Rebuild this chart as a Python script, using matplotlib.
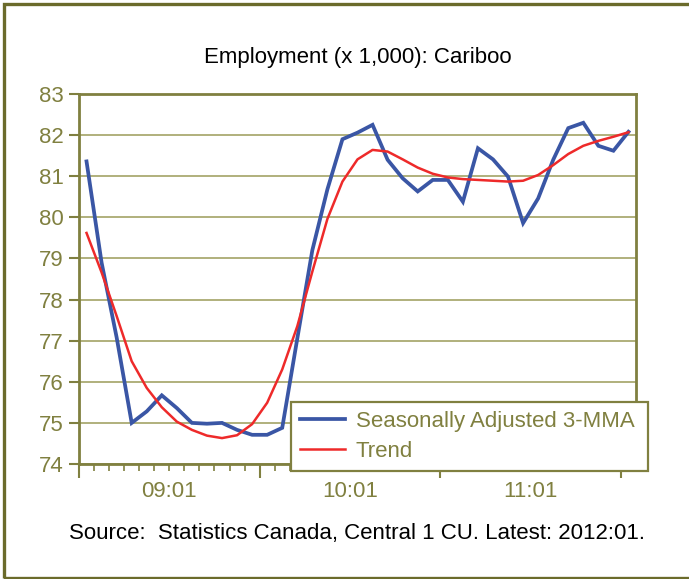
import matplotlib
matplotlib.use("Agg")
import matplotlib.pyplot as plt
from matplotlib.patches import Rectangle
from matplotlib.ticker import FixedLocator, NullFormatter

plt.rcParams["font.family"] = ["Liberation Sans", "DejaVu Sans"]

# Monthly employment, Cariboo region (thousands), 2009:01 - 2012:01
months = ["2009-01", "2009-02", "2009-03", "2009-04", "2009-05", "2009-06",
          "2009-07", "2009-08", "2009-09", "2009-10", "2009-11", "2009-12",
          "2010-01", "2010-02", "2010-03", "2010-04", "2010-05", "2010-06",
          "2010-07", "2010-08", "2010-09", "2010-10", "2010-11", "2010-12",
          "2011-01", "2011-02", "2011-03", "2011-04", "2011-05", "2011-06",
          "2011-07", "2011-08", "2011-09", "2011-10", "2011-11", "2011-12",
          "2012-01"]

seasonally_adjusted = [81.36, 78.90, 77.08, 75.00, 75.28, 75.67, 75.36, 75.00,
                       74.98, 75.00, 74.83, 74.71, 74.71, 74.88, 77.05, 79.20,
                       80.68, 81.90, 82.06, 82.25, 81.40, 80.95, 80.63, 80.91,
                       80.91, 80.38, 81.68, 81.41, 80.99, 79.86, 80.46, 81.40,
                       82.17, 82.30, 81.74, 81.62, 82.08]

trend = [79.62, 78.66, 77.60, 76.50, 75.85, 75.38, 75.03, 74.83, 74.69, 74.63,
         74.70, 74.97, 75.49, 76.30, 77.35, 78.68, 79.96, 80.87, 81.41, 81.64,
         81.60, 81.41, 81.21, 81.06, 80.97, 80.93, 80.91, 80.89, 80.87, 80.89,
         81.03, 81.27, 81.54, 81.74, 81.86, 81.96, 82.07]

year_labels = ["09:01", "10:01", "11:01"]
y_ticks = [74, 75, 76, 77, 78, 79, 80, 81, 82, 83]

title = "Employment (x 1,000): Cariboo"
source = "Source:  Statistics Canada, Central 1 CU. Latest: 2012:01."

OLIVE = "#808040"
OLIVE_DARK = "#6b6b2b"
GRID = "#a3a366"
BLUE = "#3a56a5"
RED = "#ee2a2a"
FS = 16

fig = plt.figure(figsize=(6.89, 5.79), dpi=100)
fig.patch.set_facecolor("white")

# outer frame
fig.add_artist(Rectangle((3.5 / 689, 1.5 / 579), 700 / 689, 574 / 579,
                         transform=fig.transFigure, fill=False,
                         edgecolor=OLIVE_DARK, linewidth=2.4, clip_on=False))

ax = fig.add_axes([79 / 689, 1 - 464 / 579, 557 / 689, 370 / 579])
x = list(range(len(months)))

ax.plot(x, seasonally_adjusted, color=BLUE, linewidth=2.7,
        label="Seasonally Adjusted 3-MMA", solid_joinstyle="miter", zorder=3)
ax.plot(x, trend, color=RED, linewidth=1.8, label="Trend", zorder=4)

ax.set_xlim(-0.5, len(months) - 0.5)
ax.set_ylim(74, 83)

# y axis
ax.set_yticks(y_ticks)
ax.set_yticklabels([str(v) for v in y_ticks])
ax.tick_params(axis="y", direction="out", length=7, width=1.5, color=OLIVE,
               labelcolor=OLIVE, labelsize=FS, pad=4)
ax.yaxis.grid(True, color=GRID, linewidth=1.2)
ax.set_axisbelow(True)

# x axis: a short tick at every month boundary, longer ones each January
year_starts = [i - 0.5 for i, m in enumerate(months) if m.endswith("-01")]
ax.xaxis.set_major_locator(FixedLocator(year_starts))
ax.xaxis.set_major_formatter(NullFormatter())
ax.xaxis.set_minor_locator(FixedLocator([i - 0.5 for i in range(len(months) + 1)]))
ax.tick_params(axis="x", which="major", direction="out", length=10, width=1.5,
               color=OLIVE)
ax.tick_params(axis="x", which="minor", direction="out", length=5, width=1.2,
               color=OLIVE)

# year labels centred in each twelve-month block
sec = ax.secondary_xaxis("bottom")
sec.set_xticks([s + 6 for s in year_starts[:len(year_labels)]])
sec.set_xticklabels(year_labels)
sec.tick_params(length=0, labelcolor=OLIVE, labelsize=FS, pad=12)
sec.spines["bottom"].set_visible(False)

for sp in ax.spines.values():
    sp.set_color(OLIVE)
    sp.set_linewidth(2)

leg = ax.legend(loc="upper left", bbox_to_anchor=(0.381, -0.0135, 0.641, 0.181),
                mode="expand", frameon=True, fancybox=False, fontsize=FS,
                handlelength=2.0, handletextpad=0.5, borderpad=0.4,
                labelspacing=0.42, borderaxespad=0)
leg.get_frame().set_edgecolor(OLIVE)
leg.get_frame().set_linewidth(1.6)
leg.get_frame().set_alpha(1)
for t in leg.get_texts():
    t.set_color(OLIVE)
leg.set_zorder(10)

fig.text(358 / 689, 1 - 58 / 579, title, ha="center", va="center",
         fontsize=FS, color="black")
fig.text(357 / 689, 1 - 533 / 579, source, ha="center", va="center",
         fontsize=FS, color="black")

fig.savefig("out.png", dpi=100, facecolor="white")
